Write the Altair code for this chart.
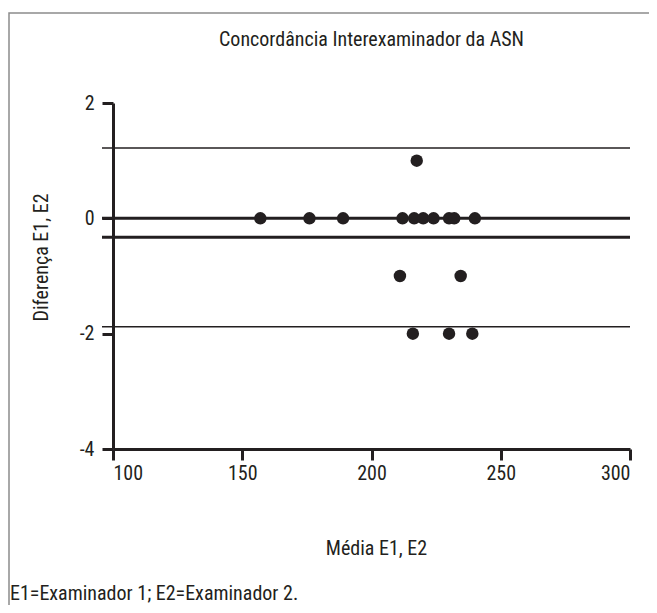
import altair as alt
import pandas as pd

# ---- data ----
media = [157, 176, 189, 212, 216.5, 220, 224, 230, 232, 240, 217.5, 211, 234.5, 216, 230, 239]
diferenca = [0, 0, 0, 0, 0, 0, 0, 0, 0, 0, 1, -1, -1, -2, -2, -2]
zero_and_mean = [0, -0.33]
limits = [1.22, -1.88]
x_ticks = [100, 150, 200, 250, 300]
y_ticks = [-4, -2, 0, 2]
title_text = ["Concordância Interexaminador da ASN"]
x_title = "Média E1, E2"
y_title = "Diferença E1, E2"
footnote = ["E1=Examinador 1; E2=Examinador 2."]

FONT = "Liberation Sans Narrow, Roboto Condensed, DejaVu Sans Condensed, sans-serif"
INK = "#231f20"
FS = 20

pts = pd.DataFrame({"media": media, "diferenca": diferenca})
thick = pd.DataFrame({"diferenca": zero_and_mean})
thin = pd.DataFrame({"diferenca": limits})
note = pd.DataFrame({"t": footnote})
ttl = pd.DataFrame({"t": title_text})
frame = pd.DataFrame({"k": [1]})

fix_minus = "replace(datum.label, '\u2212', '-')"

X = alt.X("media:Q", scale=alt.Scale(domain=[100, 300], nice=False, zero=False),
          axis=alt.Axis(values=x_ticks, title=x_title, titleX=263, titleY=99,
                        titleBaseline="middle", labelPadding=3))
Y = alt.Y("diferenca:Q", scale=alt.Scale(domain=[-4, 2], nice=False, zero=False),
          axis=alt.Axis(values=y_ticks, title=y_title, titleX=-72, titleY=154,
                        titleBaseline="middle", titleAlign="center", labelPadding=8,
                        labelExpr=fix_minus))

border = alt.Chart(frame).mark_rect(fillOpacity=0, stroke="#8c8c8c", strokeWidth=1.5).encode(
    x=alt.value(-104), x2=alt.value(542), y=alt.value(-90), y2=alt.value(530)
)

rules_thick = alt.Chart(thick).mark_rule(color=INK, strokeWidth=3).encode(
    y=Y, x=alt.value(-11), x2=alt.value(517)
)
rules_thin = alt.Chart(thin).mark_rule(color=INK, strokeWidth=1.5).encode(
    y=Y, x=alt.value(-11), x2=alt.value(517)
)
points = alt.Chart(pts).mark_circle(color=INK, opacity=1, size=155).encode(x=X, y=Y)

title = alt.Chart(ttl).mark_text(align="center", baseline="middle", font=FONT,
                                 fontSize=FS, color=INK).encode(
    text="t:N", x=alt.value(258.5), y=alt.value(-63)
)

foot = alt.Chart(note).mark_text(align="left", baseline="middle", font=FONT,
                                 fontSize=FS, color=INK).encode(
    text="t:N", x=alt.value(-103), y=alt.value(491)
)

chart = alt.layer(border, rules_thick, rules_thin, points, title, foot).properties(
    width=517, height=346,
    autosize=alt.AutoSizeParams(type="none"),
    padding={"left": 105, "top": 95, "right": 19, "bottom": 156},
).configure_view(stroke=None).configure_axis(
    grid=False, domainColor=INK, domainWidth=3, tickColor=INK, tickWidth=3, tickSize=11,
    labelFont=FONT, labelFontSize=FS, labelColor=INK,
    titleFont=FONT, titleFontSize=FS, titleFontWeight="normal", titleColor=INK,
)

chart.save("out.html", embed_options={"renderer": "svg", "actions": False})
